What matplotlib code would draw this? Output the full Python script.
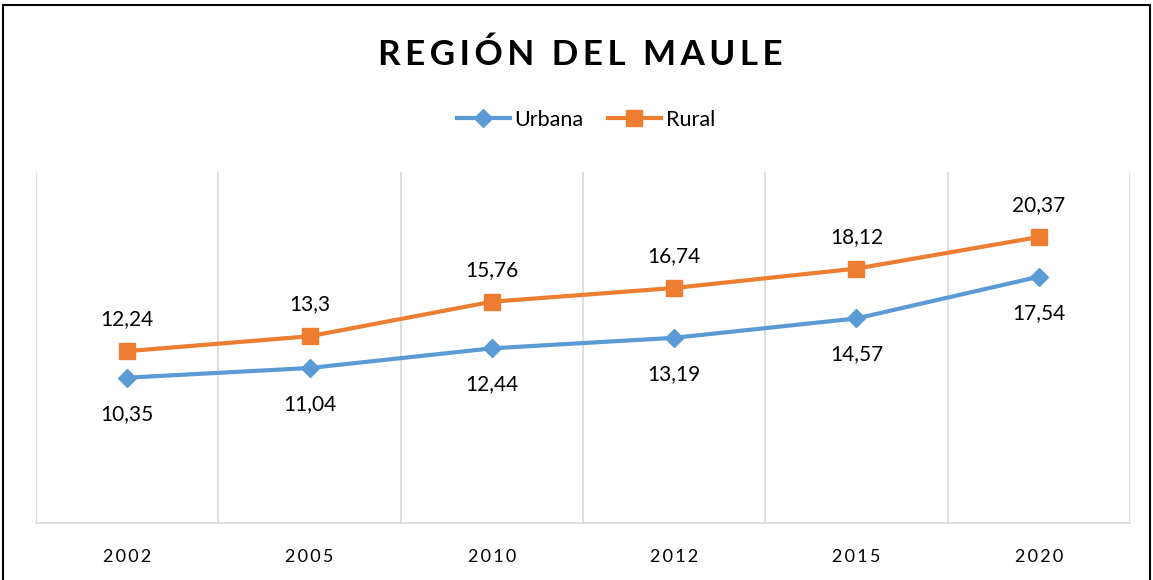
import numpy as np
import matplotlib
matplotlib.use("Agg")
from matplotlib import pyplot as plt
from matplotlib.patches import Rectangle

plt.rcParams['font.family'] = ['Lato', 'DejaVu Sans']

years = ['2002', '2005', '2010', '2012', '2015', '2020']
urbana = [10.35, 11.04, 12.44, 13.19, 14.57, 17.54]
rural = [12.24, 13.3, 15.76, 16.74, 18.12, 20.37]
title = 'REGIÓN DEL MAULE'

blue = '#5B9BD5'
orange = '#ED7D31'


def spaced(s, sep='\u2009'):
    # fake letter spacing with thin spaces
    return sep.join(s)


def fmt(v):
    return ('%g' % v).replace('.', ',')


fig = plt.figure(figsize=(11.53, 5.8), dpi=100)
ax = fig.add_axes([36 / 1153, 1 - 523 / 580, (1130 - 36) / 1153, (523 - 172) / 580])

x = np.arange(len(years))
ax.plot(x, urbana, color=blue, lw=3, marker='D', ms=9, label='Urbana', zorder=3)
ax.plot(x, rural, color=orange, lw=3, marker='s', ms=11, label='Rural', zorder=3)

for xi, v in zip(x, urbana):
    ax.annotate(fmt(v), (xi, v), xytext=(0, -26), textcoords='offset points',
                ha='center', va='center', fontsize=15, color='#000000')
for xi, v in zip(x, rural):
    ax.annotate(fmt(v), (xi, v), xytext=(0, 23), textcoords='offset points',
                ha='center', va='center', fontsize=15, color='#000000')

ax.set_xlim(-0.5, len(years) - 0.5)
ax.set_ylim(0, 25)
ax.set_xticks(x)
ax.set_xticklabels([spaced(y) for y in years], fontsize=13, color='#000000')
ax.set_xticks(np.arange(-0.5, len(years)), minor=True)
ax.grid(True, which='minor', axis='x', color='#D9D9D9', lw=1.2)
ax.tick_params(axis='x', which='both', length=0, pad=19)
ax.set_yticks([])
for s in ['top', 'right', 'left']:
    ax.spines[s].set_visible(False)
ax.spines['bottom'].set_color('#D9D9D9')
ax.spines['bottom'].set_linewidth(1.2)

fig.text(0.503, 1 - 55 / 580, spaced(title), ha='center', va='center',
         fontsize=25.3, fontweight='bold', color='#000000')

fig.legend(loc='center', bbox_to_anchor=(0.508, 1 - 120 / 580), ncol=2, frameon=False,
           fontsize=15.5, handlelength=2.5, columnspacing=1.1, handletextpad=0.2)

fig.patches.append(Rectangle((3 / 1153, -0.01), (1150 - 3) / 1153, 1 - 5 / 580 + 0.01,
                             transform=fig.transFigure, fill=False, edgecolor='#000000',
                             lw=1.5))

fig.savefig('out.png', dpi=100)
